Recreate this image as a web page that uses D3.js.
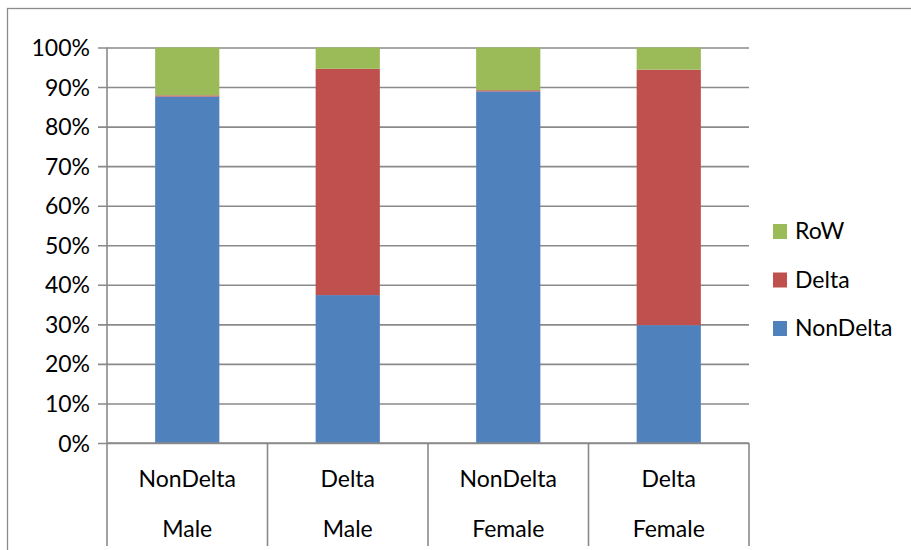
<!DOCTYPE html>
<html>
<head>
<meta charset="utf-8">
<script src="https://cdn.jsdelivr.net/npm/d3@7"></script>
<style>
  html, body { margin: 0; padding: 0; background: #fff; }
  svg { display: block; }
  text { font-family: Lato, "Open Sans", sans-serif; fill: #000; }
</style>
</head>
<body>
<svg id="chart" width="911" height="550"></svg>
<script>
// Group labels (two-level category axis)
const groups = ["NonDelta", "Delta", "NonDelta", "Delta"];
const sexes = ["Male", "Male", "Female", "Female"];

// Share of each origin within a group (percent)
const nonDelta = [87.6, 37.4, 88.9, 29.8];
const delta    = [0.3, 57.2, 0.3, 64.6];
const row      = [12.1, 5.4, 10.8, 5.6];

const seriesNames = ["NonDelta", "Delta", "RoW"];
const seriesColors = ["#4f81bd", "#c0504d", "#9bbb59"];
const yTicks = [0, 10, 20, 30, 40, 50, 60, 70, 80, 90, 100];

const svg = d3.select("#chart");
const W = 911, H = 550;
const plot = { left: 107, right: 749, top: 47.5, bottom: 443 };
const axisColor = "#8a8a8a";

// Outer chart frame
svg.append("rect")
  .attr("x", 7.5).attr("y", 8.5)
  .attr("width", W + 20).attr("height", H + 20)
  .attr("fill", "none").attr("stroke", "#8c8c8c").attr("stroke-width", 1.3);

const rows = groups.map((g, i) => ({
  key: i, group: g, sex: sexes[i],
  NonDelta: nonDelta[i], Delta: delta[i], RoW: row[i]
}));

const x = d3.scaleBand()
  .domain(rows.map(d => d.key))
  .range([plot.left, plot.right])
  .paddingInner(0).paddingOuter(0);

const y = d3.scaleLinear().domain([0, 100]).range([plot.bottom, plot.top]);

// Horizontal gridlines with tick stubs
const yAxis = d3.axisLeft(y)
  .tickValues(yTicks)
  .tickSize(-(plot.right - plot.left))
  .tickFormat(d => d + "%")
  .tickPadding(17);

const gy = svg.append("g")
  .attr("transform", `translate(${plot.left},0)`)
  .call(yAxis);
gy.select(".domain").remove();
gy.selectAll(".tick line")
  .attr("x1", -9)
  .attr("stroke", axisColor).attr("stroke-width", 1.6);
gy.selectAll(".tick text")
  .attr("font-size", 23).attr("font-family", "Lato, sans-serif")
  .attr("fill", "#000").attr("dy", "0.35em");

// Stacked bars
const stack = d3.stack().keys(seriesNames);
const layers = stack(rows);
const color = d3.scaleOrdinal().domain(seriesNames).range(seriesColors);
const barW = x.bandwidth() * 0.4;

svg.append("g").selectAll("g")
  .data(layers)
  .join("g")
  .attr("fill", d => color(d.key))
  .selectAll("rect")
  .data(d => d)
  .join("rect")
  .attr("x", d => x(d.data.key) + (x.bandwidth() - barW) / 2)
  .attr("width", barW)
  .attr("y", d => y(d[1]))
  .attr("height", d => y(d[0]) - y(d[1]));

// Vertical axis line
svg.append("line")
  .attr("x1", plot.left).attr("x2", plot.left)
  .attr("y1", plot.top).attr("y2", plot.bottom)
  .attr("stroke", axisColor).attr("stroke-width", 1.6);

// Category axis: baseline plus long dividers between groups
svg.append("line")
  .attr("x1", plot.left).attr("x2", plot.right)
  .attr("y1", plot.bottom).attr("y2", plot.bottom)
  .attr("stroke", axisColor).attr("stroke-width", 1.6);

const bounds = rows.map(d => x(d.key)).concat([plot.right]);
svg.append("g").selectAll("line")
  .data(bounds)
  .join("line")
  .attr("x1", d => d).attr("x2", d => d)
  .attr("y1", plot.bottom).attr("y2", 546)
  .attr("stroke", axisColor).attr("stroke-width", 1.6);

const labels = svg.append("g").attr("text-anchor", "middle")
  .attr("font-size", 23);
labels.selectAll("text.grp")
  .data(rows)
  .join("text")
  .attr("class", "grp")
  .attr("x", d => x(d.key) + x.bandwidth() / 2)
  .attr("y", 487)
  .text(d => d.group);
labels.selectAll("text.sex")
  .data(rows)
  .join("text")
  .attr("class", "sex")
  .attr("x", d => x(d.key) + x.bandwidth() / 2)
  .attr("y", 537)
  .text(d => d.sex);

// Legend, top entry is the top of the stack
const legendItems = seriesNames.slice().reverse();
const lg = svg.append("g").attr("transform", "translate(773,224)");
const item = lg.selectAll("g")
  .data(legendItems)
  .join("g")
  .attr("transform", (d, i) => `translate(0,${i * 48.5})`);
item.append("rect")
  .attr("width", 14).attr("height", 15)
  .attr("fill", d => color(d));
item.append("text")
  .attr("x", 22).attr("y", 15)
  .attr("font-size", 23)
  .text(d => d);
</script>
</body>
</html>
